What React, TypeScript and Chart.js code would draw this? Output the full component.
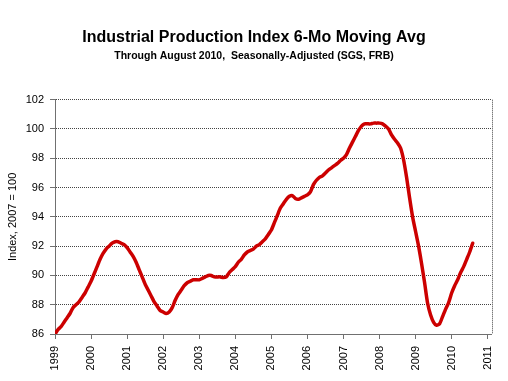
import React, { useEffect, useRef } from "react";
import { Chart, registerables } from "chart.js";

Chart.register(...registerables);

// Monthly 6-month moving average, Jan 1999 .. Aug 2010
const startYear = 1999;
const v1999 = [86.0, 86.3, 86.5, 86.8, 87.1, 87.4, 87.8, 88.0, 88.2, 88.5, 88.8, 89.2];
const v2000 = [89.6, 90.1, 90.6, 91.1, 91.5, 91.8, 92.0, 92.2, 92.3, 92.3, 92.2, 92.1];
const v2001 = [91.9, 91.6, 91.3, 90.9, 90.4, 89.9, 89.4, 89.0, 88.6, 88.2, 87.9, 87.6];
const v2002 = [87.5, 87.4, 87.5, 87.8, 88.3, 88.7, 89.0, 89.3, 89.5, 89.6, 89.7, 89.7];
const v2003 = [89.7, 89.8, 89.9, 90.0, 90.0, 89.9, 89.9, 89.9, 89.85, 89.9, 90.2, 90.4];
const v2004 = [90.6, 90.9, 91.1, 91.4, 91.6, 91.7, 91.8, 92.0, 92.1, 92.3, 92.5, 92.8];
const v2005 = [93.1, 93.6, 94.1, 94.6, 94.9, 95.2, 95.4, 95.45, 95.25, 95.2, 95.3, 95.4];
const v2006 = [95.5, 95.7, 96.2, 96.5, 96.7, 96.8, 97.0, 97.2, 97.35, 97.5, 97.65, 97.85];
const v2007 = [98.0, 98.25, 98.7, 99.1, 99.5, 99.9, 100.2, 100.35, 100.35, 100.35, 100.4, 100.4];
const v2008 = [100.4, 100.35, 100.2, 100.0, 99.6, 99.3, 99.05, 98.7, 97.9, 96.7, 95.3, 94.0];
const v2009 = [93.0, 92.0, 90.8, 89.5, 88.1, 87.3, 86.8, 86.6, 86.7, 87.2, 87.7, 88.15];
const v2010 = [88.8, 89.3, 89.7, 90.2, 90.6, 91.1, 91.6, 92.2];

const yearTicks = [1999, 2000, 2001, 2002, 2003, 2004, 2005, 2006, 2007, 2008, 2009, 2010, 2011];
const yTicks = [86, 88, 90, 92, 94, 96, 98, 100, 102];

const titleText = "Industrial Production Index 6-Mo Moving Avg";
const subtitleText = "Through August 2010,  Seasonally-Adjusted (SGS, FRB)";
const yAxisTitle = "Index, 2007 = 100";

const FONT = "'Liberation Sans', Arial, sans-serif";

export default function App() {
  const ref = useRef<HTMLCanvasElement | null>(null);

  useEffect(() => {
    const values = [
      ...v1999, ...v2000, ...v2001, ...v2002, ...v2003, ...v2004,
      ...v2005, ...v2006, ...v2007, ...v2008, ...v2009, ...v2010,
    ];
    const data = values.map((v, i) => ({ x: startYear + i / 12, y: v }));

    const rightBorder = {
      id: "rightBorder",
      beforeDatasetsDraw(chart: any) {
        const { ctx, chartArea } = chart;
        ctx.save();
        ctx.strokeStyle = "#444";
        ctx.lineWidth = 1;
        ctx.setLineDash([1, 1]);
        const x = Math.round(chartArea.right) + 0.5;
        ctx.beginPath();
        ctx.moveTo(x, chartArea.top);
        ctx.lineTo(x, chartArea.bottom);
        ctx.stroke();
        ctx.restore();
      },
    };

    const chart = new Chart(ref.current as HTMLCanvasElement, {
      type: "line",
      data: {
        datasets: [
          {
            data,
            borderColor: "#CC0000",
            borderWidth: 3.5,
            pointRadius: 0,
            tension: 0.2,
            fill: false,
            borderCapStyle: "round",
            borderJoinStyle: "round",
          },
        ],
      },
      options: {
        responsive: false,
        animation: false,
        devicePixelRatio: 1,
        layout: { padding: { left: 10, right: 10, top: 0, bottom: 0 } },
        plugins: {
          legend: { display: false },
          tooltip: { enabled: false },
          title: {
            display: true,
            text: titleText,
            color: "#000",
            font: { family: FONT, size: 16, weight: "bold", lineHeight: 1.2 },
            padding: { top: 28, bottom: 2 },
          },
          subtitle: {
            display: true,
            text: subtitleText,
            color: "#000",
            font: { family: FONT, size: 10.5, weight: "bold", lineHeight: 1.2 },
            padding: { top: 0.3, bottom: 37.6 },
          },
        },
        scales: {
          x: {
            type: "linear",
            min: 1999,
            max: 2011.11,
            afterBuildTicks: (s: any) => {
              s.ticks = yearTicks.map((v) => ({ value: v }));
            },
            afterFit: (s: any) => {
              s.height = 47;
            },
            grid: {
              drawOnChartArea: false,
              drawTicks: true,
              tickLength: 5,
              tickColor: "#707070",
            },
            border: { color: "#707070", width: 1 },
            ticks: {
              minRotation: 90,
              maxRotation: 90,
              autoSkip: false,
              padding: 7,
              color: "#000",
              font: { family: FONT, size: 11 },
              callback: (v: any) => String(v),
            },
          },
          y: {
            min: 86,
            max: 102,
            afterBuildTicks: (s: any) => {
              s.ticks = yTicks.map((v) => ({ value: v }));
            },
            afterFit: (s: any) => {
              s.width = 45;
            },
            grid: {
              color: "#444",
              lineWidth: 1,
              drawTicks: true,
              tickLength: 5,
              tickColor: "#707070",
              tickBorderDash: [],
            },
            border: { color: "#707070", width: 1, dash: [1, 1] },
            ticks: {
              padding: 6,
              color: "#000",
              font: { family: FONT, size: 11 },
            },
            title: {
              display: true,
              text: yAxisTitle,
              color: "#000",
              font: { family: FONT, size: 11, lineHeight: 1.2 },
              padding: { top: -4, bottom: 0 },
            },
          },
        },
      },
      plugins: [rightBorder],
    } as any);

    return () => {
      chart.destroy();
    };
  }, []);

  return (
    <div
      style={{
        position: "absolute",
        left: 0,
        top: 0,
        width: 508,
        height: 381,
        background: "#fff",
      }}
    >
      <canvas ref={ref} width={508} height={381} style={{ display: "block" }} />
    </div>
  );
}
